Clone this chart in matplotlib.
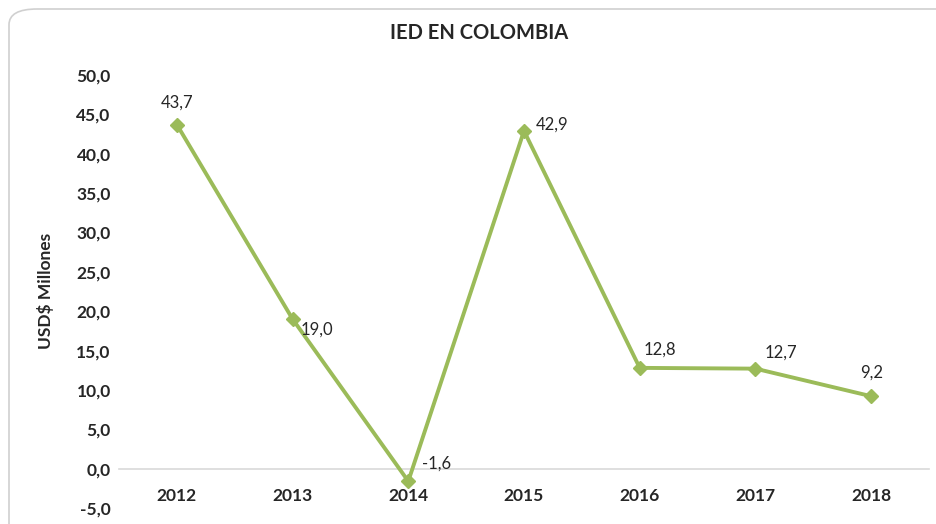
import matplotlib
matplotlib.use("Agg")
import matplotlib.pyplot as plt
from matplotlib.ticker import FuncFormatter, MultipleLocator
from matplotlib.patches import FancyBboxPatch

years = ["2012", "2013", "2014", "2015", "2016", "2017", "2018"]
values = [43.7, 19.0, -1.6, 42.9, 12.8, 12.7, 9.2]
label_offsets = [(0, 22), (24, -11), (28, 18), (28, 6), (20, 18), (25, 16), (0, 24)]

plt.rcParams['font.family'] = ['Lato', 'DejaVu Sans']
green = "#9BBB59"
text_c = "#262626"

fig = plt.figure(figsize=(9.36, 5.24), dpi=100)
W, H = 936, 524
ax = fig.add_axes([119 / W, 1 - 508 / H, (929 - 119) / W, (508 - 75) / H])

# card frame
card = FancyBboxPatch((9 / W, -0.05), 1.05, 1 - 9 / H + 0.05,
                      boxstyle="round,pad=0,rounding_size=0.03",
                      transform=fig.transFigure, facecolor="white",
                      edgecolor="#d0d0d0", linewidth=1.2, zorder=-10)
fig.patches.append(card)

x = list(range(len(years)))
ax.plot(x, values, color=green, linewidth=2.8, marker="D", markersize=7.5,
        markerfacecolor=green, markeredgecolor=green, zorder=3)

for xi, v, (dx, dy) in zip(x, values, label_offsets):
    ax.annotate(f"{v:.1f}".replace(".", ","), (xi, v), xytext=(dx, dy),
                textcoords="offset pixels", ha="center", va="center",
                fontsize=12, color=text_c)

ax.set_xlim(-0.5, len(years) - 0.5)
ax.set_ylim(-5, 50)
ax.yaxis.set_major_locator(MultipleLocator(5))
ax.yaxis.set_major_formatter(FuncFormatter(lambda v, p: f"{v:.1f}".replace(".", ",")))
ax.set_xticks(x)
ax.set_xticklabels(years)

for s in ["top", "right", "left"]:
    ax.spines[s].set_visible(False)
ax.spines["bottom"].set_position(("data", 0))
ax.spines["bottom"].set_color("#d9d9d9")
ax.spines["bottom"].set_linewidth(1.2)
ax.tick_params(axis="x", length=0, pad=14, labelsize=12.5, labelcolor=text_c)
ax.tick_params(axis="y", length=0, pad=6, labelsize=12.5, labelcolor=text_c)
for lbl in ax.get_xticklabels() + ax.get_yticklabels():
    lbl.set_fontweight("bold")
ax.set_facecolor("none")

fig.text(479 / W, 1 - 33 / H, "IED EN COLOMBIA", ha="center", va="center",
         fontsize=14.5, fontweight="bold", color=text_c)
fig.text(45 / W, 1 - 291 / H, "USD$ Millones", ha="center", va="center",
         rotation=90, fontsize=12.5, fontweight="bold", color=text_c)

fig.savefig("out.png", dpi=100)
